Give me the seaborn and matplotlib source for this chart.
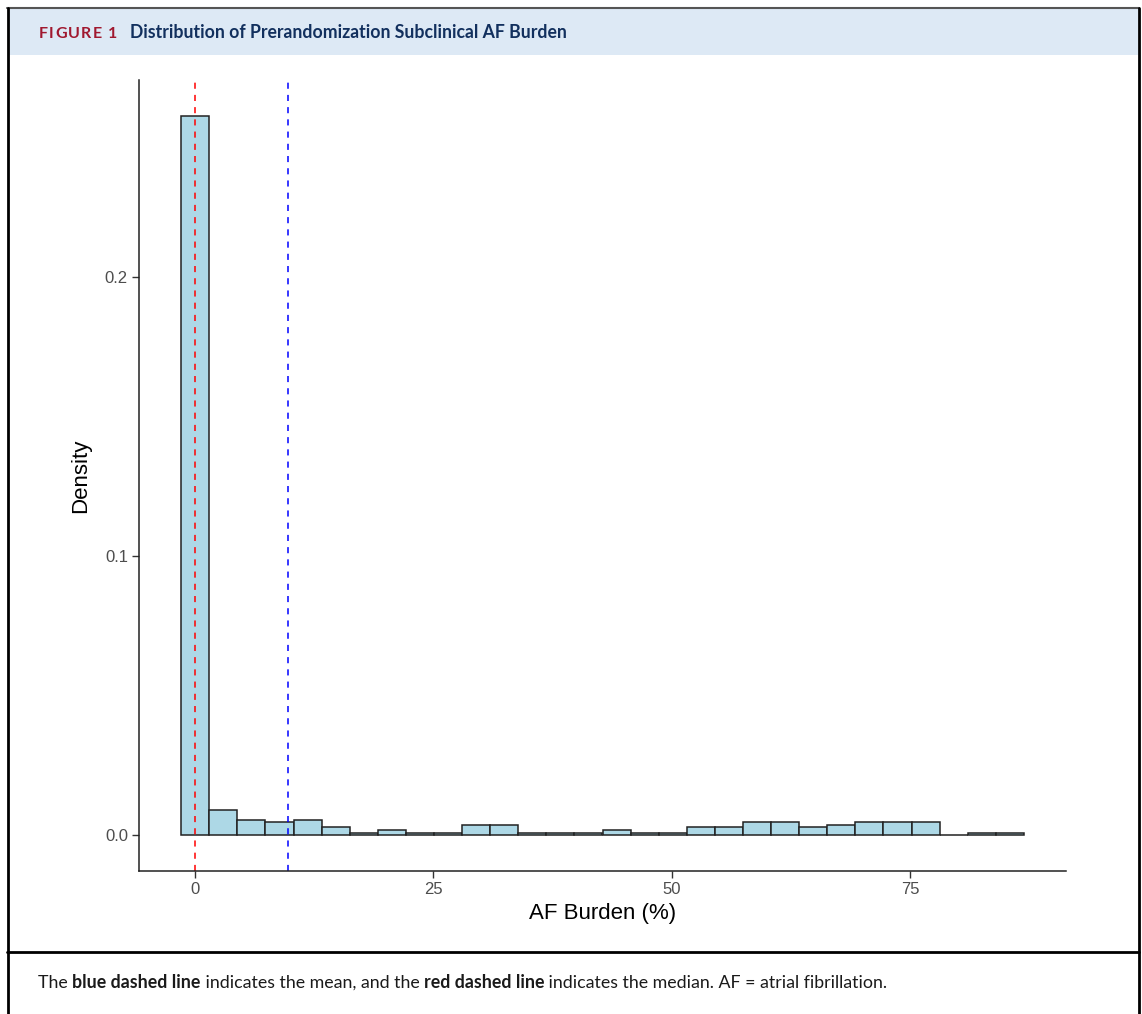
import numpy as np
import pandas as pd
import matplotlib
matplotlib.use("Agg")
import matplotlib.pyplot as plt
import seaborn as sns
from matplotlib.patches import Rectangle
from matplotlib.lines import Line2D

# patient counts per 30 bins of AF burden (%), bins centred on 0
bin_counts = [284, 10, 6, 5, 6, 3, 1, 2, 1, 1, 4, 4, 1, 1, 1, 2, 1, 1,
              3, 3, 5, 5, 3, 4, 5, 5, 5, 0, 1, 1]
bin_width = 2.947
af_mean = 9.75
af_median = 0.0

x_ticks = [0, 25, 50, 75]
y_ticks = [0.0, 0.1, 0.2]
y_ticklabels = ["0.0", "0.1", "0.2"]

edges = -bin_width / 2 + bin_width * np.arange(len(bin_counts) + 1)
centers = edges[:-1] + bin_width / 2
df = pd.DataFrame({"burden": centers, "n": bin_counts})

sns.set_style("white")
plt.rcParams["font.family"] = ["Liberation Sans", "DejaVu Sans"]

fig = plt.figure(figsize=(11.42, 10.14), dpi=100)
W, H = 1142, 1014
renderer = fig.canvas.get_renderer()

def fx(px):
    return px / W

def fy(py):
    return 1 - py / H

def write_run(x_px, y_px, pieces, tracking=0.0, **common):
    # draw text pieces one after another on a shared baseline
    x = x_px
    for txt, kw in pieces:
        t = fig.text(fx(x), fy(y_px), txt, va="baseline", ha="left", **common, **kw)
        x += t.get_window_extent(renderer).width + tracking
    return x

# frame, header band and caption divider
fig.patches.append(Rectangle((fx(8), fy(55)), fx(1130), 47 / H, transform=fig.transFigure,
                             facecolor="#dde9f5", edgecolor="none", zorder=0))
fig.lines.append(Line2D([fx(7), fx(1139)], [fy(8), fy(8)], transform=fig.transFigure,
                        color="#555555", lw=1.5))
fig.lines.append(Line2D([fx(7.5), fx(7.5)], [fy(8), 0], transform=fig.transFigure,
                        color="black", lw=2))
fig.lines.append(Line2D([fx(1138.5), fx(1138.5)], [fy(8), 0], transform=fig.transFigure,
                        color="black", lw=2))
fig.lines.append(Line2D([fx(7), fx(1139)], [fy(952), fy(952)], transform=fig.transFigure,
                        color="black", lw=2))

# header text: letter-spaced label, then title
hdr = dict(family=["Lato", "DejaVu Sans"], fontweight="bold")
write_run(39, 38, [(c, {}) for c in "FIGURE"], tracking=1.2,
          color="#a0182f", fontsize=11.5, **hdr)
write_run(108, 38, [("1", {})], color="#a0182f", fontsize=11.5, **hdr)
fig.text(fx(130), fy(38), "Distribution of Prerandomization Subclinical AF Burden",
         color="#12305e", fontsize=12.7, va="baseline", **hdr)

# caption with bold parts
pieces = [("The ", {"fontweight": "normal"}),
          ("blue dashed line", {"fontweight": "bold"}),
          (" indicates the mean, and the ", {"fontweight": "normal"}),
          ("red dashed line", {"fontweight": "bold"}),
          (" indicates the median. AF = atrial fibrillation.", {"fontweight": "normal"})]
write_run(38, 988, pieces, fontsize=12.8, family=["Lato", "DejaVu Sans"], color="#1a1a1a")

ax = fig.add_axes([fx(139), fy(871), fx(1066) - fx(139), (871 - 80) / H])
sns.histplot(data=df, x="burden", weights="n", binwidth=bin_width,
             binrange=(edges[0], edges[-1]), stat="density",
             color="#add8e6", alpha=1, edgecolor="#222222", linewidth=1.1, ax=ax)
ax.axvline(af_mean, color="blue", ls=(0, (4, 4)), lw=1.1)
ax.axvline(af_median, color="red", ls=(0, (4, 4)), lw=1.1)

xr = edges[-1] - edges[0]
ax.set_xlim(edges[0] - 0.05 * xr, edges[-1] + 0.05 * xr)
ymax = max(bin_counts) / (sum(bin_counts) * bin_width)
ax.set_ylim(-0.05 * ymax, ymax * 1.05)

ax.set_xticks(x_ticks)
ax.set_yticks(y_ticks)
ax.set_yticklabels(y_ticklabels)
ax.tick_params(axis="both", which="major", direction="out", length=5, width=1,
               color="#333333", labelcolor="#4d4d4d", labelsize=12, pad=3,
               bottom=True, left=True)
sns.despine(ax=ax)
for s in ["left", "bottom"]:
    ax.spines[s].set_color("#222222")
    ax.spines[s].set_linewidth(1.1)
ax.set_xlabel("AF Burden (%)", fontsize=16, color="black", labelpad=4)
ax.set_ylabel("Density", fontsize=16, color="black", labelpad=10)

fig.savefig("out.png", dpi=100)
